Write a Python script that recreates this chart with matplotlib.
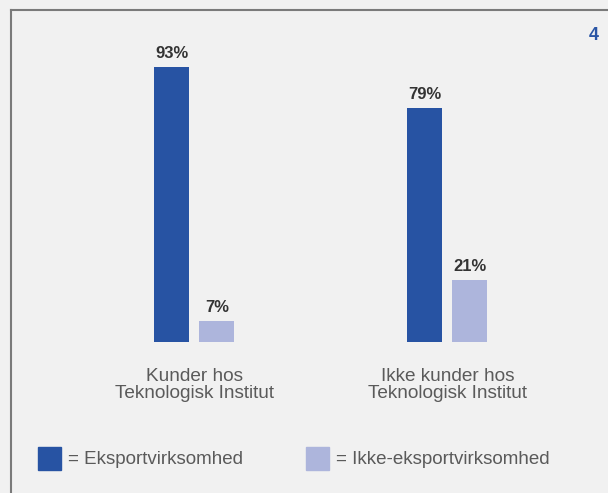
import matplotlib
matplotlib.use("Agg")
import matplotlib.pyplot as plt
from matplotlib.patches import Rectangle
from matplotlib.lines import Line2D

categories = ["Kunder hos\nTeknologisk Institut", "Ikke kunder hos\nTeknologisk Institut"]
eksport = [93, 79]
ikke_eksport = [7, 21]
series_names = ["= Eksportvirksomhed", "= Ikke-eksportvirksomhed"]

dark = "#2753a3"
light = "#adb5dc"
bg = "#f1f1f1"

plt.rcParams['font.family'] = ['Liberation Sans', 'DejaVu Sans']

fig = plt.figure(figsize=(6.08, 4.93), dpi=100)
fig.patch.set_facecolor(bg)

# frame lines (left and top)
fig.add_artist(Line2D([11 / 608, 11 / 608], [0, 1 - 10 / 493], color="#7a7a7a", lw=1.5))
fig.add_artist(Line2D([11 / 608, 1], [1 - 10 / 493, 1 - 10 / 493], color="#7a7a7a", lw=1.5))
fig.text(599 / 608, 1 - 35 / 493, "4", color="#2a55a5", fontsize=13, fontweight="bold",
         ha="right", va="center")

ax = fig.add_axes([100 / 608, 151 / 493, 450 / 608, 310 / 493])
ax.patch.set_alpha(0)
for s in ax.spines.values():
    s.set_visible(False)
ax.set_xticks([])
ax.set_yticks([])

w = 35 / 253
off = 22.5 / 253
x = [0, 1]
b1 = ax.bar([i - off for i in x], eksport, width=w, color=dark)
b2 = ax.bar([i + off for i in x], ikke_eksport, width=w, color=light)
ax.set_xlim(-94.3 / 253, 355.7 / 253)
ax.set_ylim(0, 310 / 2.957)

for bars, vals in [(b1, eksport), (b2, ikke_eksport)]:
    for r, v in zip(bars, vals):
        ax.annotate(f"{v}%", (r.get_x() + r.get_width() / 2, v), xytext=(0, 4.5),
                    textcoords="offset points", ha="center", va="bottom",
                    fontsize=12, fontweight="bold", color="#333333")

for i, c in zip(x, categories):
    ax.annotate(c, (i, 0), xytext=(0, -18.5), textcoords="offset points", ha="center",
                va="top", fontsize=13.7, color="#5a5a5a", linespacing=1.0)

# legend
for px, col, name in [(38, dark, series_names[0]), (306, light, series_names[1])]:
    fig.add_artist(Rectangle((px / 608, 1 - 470 / 493), 23 / 608, 23 / 493,
                             transform=fig.transFigure, color=col))
    fig.text((px + 30) / 608, 1 - 459.5 / 493, name, fontsize=13.5, color="#5a5a5a",
             ha="left", va="center")

fig.savefig("out.png", dpi=100, facecolor=bg)
